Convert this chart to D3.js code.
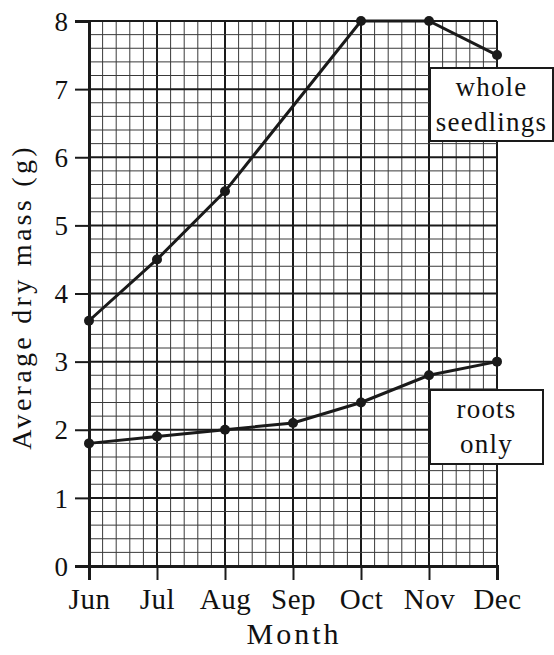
<!DOCTYPE html>
<html>
<head>
<meta charset="utf-8">
<script src="https://cdn.jsdelivr.net/npm/d3@7"></script>
<style>
  body { margin: 0; background: #fff; }
  svg { display: block; }
  text { font-family: "Liberation Serif", "Times New Roman", serif; fill: #111; }
</style>
</head>
<body>
<svg id="chart" width="554" height="655"></svg>
<script>
// data
var months = ['Jun', 'Jul', 'Aug', 'Sep', 'Oct', 'Nov', 'Dec'];
var wholeSeedlings = [3.6, 4.5, 5.5, null, 8, 8, 7.5];
var rootsOnly = [1.8, 1.9, 2.0, 2.1, 2.4, 2.8, 3.0];
var yTicks = [0, 1, 2, 3, 4, 5, 6, 7, 8];

var svg = d3.select('#chart');

var x = d3.scalePoint().domain(months).range([89, 497]);
var y = d3.scaleLinear().domain([0, 8]).range([566, 21]);

// fine grid: 5 squares per month and per unit
var xFine = d3.scaleLinear().domain([0, 6]).range([89, 497]);
var grid = svg.append('g');
d3.range(0, 6.001, 0.2).forEach(function(v, i) {
  var major = i % 5 == 0;
  grid.append('line')
    .attr('x1', xFine(v)).attr('x2', xFine(v))
    .attr('y1', y(0)).attr('y2', y(8))
    .attr('stroke', major ? '#1a1a1a' : '#3a3a3a')
    .attr('stroke-width', major ? 2 : 1);
});
d3.range(0, 8.001, 0.2).forEach(function(v, i) {
  var major = i % 5 == 0;
  grid.append('line')
    .attr('x1', xFine(0)).attr('x2', xFine(6))
    .attr('y1', y(v)).attr('y2', y(v))
    .attr('stroke', major ? '#1a1a1a' : '#3a3a3a')
    .attr('stroke-width', major ? 2 : 1);
});

// axes
var yAxis = svg.append('g')
  .attr('transform', 'translate(89,0)')
  .call(d3.axisLeft(y).tickValues(yTicks).tickSize(14).tickPadding(7));
var xAxis = svg.append('g')
  .attr('transform', 'translate(0,566)')
  .call(d3.axisBottom(x).tickSize(14).tickPadding(8));

[yAxis, xAxis].forEach(function(a) {
  a.select('.domain').attr('stroke', '#1a1a1a').attr('stroke-width', 3);
  a.selectAll('.tick line').attr('stroke', '#1a1a1a').attr('stroke-width', 2);
  a.selectAll('text').style('font-family', '"Liberation Serif", serif').attr('fill', '#111');
});
yAxis.selectAll('text').style('font-size', '27px').attr('dy', '0.34em');
xAxis.selectAll('text').style('font-size', '29px').style('letter-spacing', '0.5px').attr('dy', '0.72em');

// axis titles
svg.append('text')
  .attr('transform', 'translate(31,297) rotate(-90)')
  .attr('text-anchor', 'middle')
  .style('font-size', '28px')
  .style('letter-spacing', '3.3px')
  .text('Average dry mass (g)');
svg.append('text')
  .attr('x', 294).attr('y', 644)
  .attr('text-anchor', 'middle')
  .style('font-size', '30px')
  .style('letter-spacing', '3px')
  .text('Month');

// series
function drawSeries(vals) {
  var pts = months.map(function(m, i) { return {m: m, v: vals[i]}; })
    .filter(function(d) { return d.v != null; });
  svg.append('path')
    .datum(pts)
    .attr('fill', 'none')
    .attr('stroke', '#1a1a1a')
    .attr('stroke-width', 3)
    .attr('d', d3.line().x(function(d) { return x(d.m); }).y(function(d) { return y(d.v); }));
  svg.selectAll(null).data(pts).enter().append('circle')
    .attr('cx', function(d) { return x(d.m); })
    .attr('cy', function(d) { return y(d.v); })
    .attr('r', 5)
    .attr('fill', '#1a1a1a');
}
drawSeries(wholeSeedlings);
drawSeries(rootsOnly);

// labels in boxes
function labelBox(x0, y0, w, h, lines) {
  svg.append('rect')
    .attr('x', x0).attr('y', y0).attr('width', w).attr('height', h)
    .attr('fill', '#fff').attr('stroke', '#1a1a1a').attr('stroke-width', 2);
  lines.forEach(function(t, i) {
    svg.append('text')
      .attr('x', x0 + w / 2).attr('y', y0 + 28 + i * 35)
      .attr('text-anchor', 'middle')
      .style('font-size', '27px')
      .style('letter-spacing', '1.2px')
      .text(t);
  });
}
labelBox(430, 68, 123, 73, ['whole', 'seedlings']);
labelBox(430, 390, 113, 74, ['roots', 'only']);
</script>
</body>
</html>
